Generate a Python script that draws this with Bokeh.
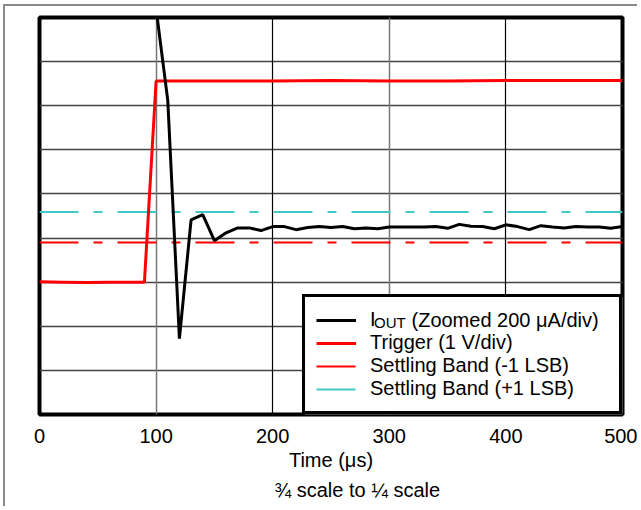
from bokeh.plotting import figure
from bokeh.models import (Range1d, FixedTicker, Grid, Legend, LegendItem, Label, Title,
                          BoxAnnotation)
from bokeh.embed import file_html
from bokeh.resources import INLINE

# ---------------- data (divisions on a 9-division scope screen) ----------------
x_ticks = [0, 100, 200, 300, 400, 500]
y_divisions = [0, 1, 2, 3, 4, 5, 6, 7, 8, 9]

iout_t = [100, 110, 120, 130, 140, 150, 160, 170, 180, 190, 200, 210, 220, 230, 240,
          250, 260, 270, 280, 290, 300, 310, 320, 330, 340, 350, 360, 370, 380, 390,
          400, 410, 420, 430, 440, 450, 460, 470, 480, 490, 500]
iout_v = [9.20, 7.12, 1.72, 4.41, 4.53, 3.94, 4.12, 4.23, 4.23, 4.17, 4.26, 4.26, 4.19, 4.24, 4.26,
          4.24, 4.26, 4.21, 4.23, 4.21, 4.25, 4.25, 4.25, 4.25, 4.26, 4.22, 4.31, 4.27, 4.26, 4.21,
          4.30, 4.26, 4.19, 4.28, 4.25, 4.23, 4.26, 4.25, 4.25, 4.22, 4.26]

trigger_t = [0, 20, 40, 60, 80, 90, 100, 120, 150, 200, 250, 300, 350, 400, 450, 500]
trigger_v = [3.01, 3.00, 2.99, 3.00, 3.00, 3.00, 7.56, 7.56, 7.56, 7.56, 7.57, 7.56, 7.56, 7.57, 7.57, 7.57]

band_t = [0, 500]
band_minus = [3.90, 3.90]
band_plus = [4.59, 4.59]

FONT = "Liberation Sans"

p = figure(width=634, height=502, x_range=Range1d(0, 500), y_range=Range1d(0, 9),
           output_backend="svg", toolbar_location=None,
           x_axis_location="below", y_axis_location=None,
           min_border_left=34, min_border_right=17, min_border_top=11, min_border_bottom=94,
           background_fill_color="white", border_fill_color="white")
p.styles = {"margin-left": "3px", "margin-top": "4px",
            "border-left": "2px solid #8a8a8a", "border-top": "2px solid #8a8a8a"}

p.outline_line_color = "black"
p.outline_line_width = 4
p.outline_line_alpha = 1

# grids
p.grid.visible = False
p.add_layout(Grid(dimension=1, ticker=FixedTicker(ticks=y_divisions),
                  grid_line_color="#444444", grid_line_width=1.5))
p.add_layout(Grid(dimension=0, ticker=FixedTicker(ticks=[100, 300]),
                  grid_line_color="#777777", grid_line_width=1.5))
p.add_layout(Grid(dimension=0, ticker=FixedTicker(ticks=[200, 400]),
                  grid_line_color="#000000", grid_line_width=1.2))

# axis
ax = p.xaxis[0]
ax.ticker = FixedTicker(ticks=x_ticks)
ax.axis_line_color = None
ax.major_tick_line_color = None
ax.minor_tick_line_color = None
ax.major_label_standoff = 8
ax.major_label_text_font = FONT
ax.major_label_text_font_size = "20px"
ax.major_label_text_color = "black"
ax.axis_label = "Time (μs)"
ax.axis_label_text_font = FONT
ax.axis_label_text_font_size = "20px"
ax.axis_label_text_font_style = "normal"
ax.axis_label_text_color = "black"
ax.axis_label_standoff = 3

p.add_layout(Title(text="¾ scale to ¼ scale", align="left", offset=235,
                   text_font=FONT, text_font_size="20px", text_font_style="normal",
                   text_color="black", standoff=6), "below")

# series
r_lo = p.line(band_t, band_minus, line_color="#ff0000", line_width=2, line_dash="39 15 9 15")
r_hi = p.line(band_t, band_plus, line_color="#40c8c8", line_width=2, line_dash="39 15 9 15")
r_trig = p.line(trigger_t, trigger_v, line_color="#ff0000", line_width=3)
r_iout = p.line(iout_t, iout_v, line_color="black", line_width=3)

# white backing of the legend box (legend itself is transparent so that the
# subscripted first label can sit inside it)
p.add_layout(BoxAnnotation(left=265, left_units="screen", top=118, top_units="screen",
                           fill_color="white", fill_alpha=1, line_color=None))

p.add_layout(Label(x=334.6, y=95, x_units="screen", y_units="screen", text="OUT",
                   text_font=FONT, text_font_size="15px", text_color="black",
                   text_baseline="middle", y_offset=-3))
p.add_layout(Label(x=372.0, y=95, x_units="screen", y_units="screen",
                   text="(Zoomed 200 μA/div)", text_font=FONT, text_font_size="20px",
                   text_color="black", text_baseline="middle"))

legend = Legend(items=[LegendItem(label="I", renderers=[r_iout]),
                       LegendItem(label="Trigger (1 V/div)", renderers=[r_trig]),
                       LegendItem(label="Settling Band (-1 LSB)", renderers=[r_lo]),
                       LegendItem(label="Settling Band (+1 LSB)", renderers=[r_hi])],
                location="bottom_right", margin=0, padding=11, spacing=0,
                glyph_width=40, glyph_height=22, label_height=22, label_width=238,
                label_standoff=14, border_line_color="black", border_line_width=3,
                border_line_alpha=1, background_fill_alpha=0,
                label_text_font=FONT, label_text_font_size="20px", label_text_color="black")
p.add_layout(legend)

open("out.html", "w").write(file_html(p, INLINE))
